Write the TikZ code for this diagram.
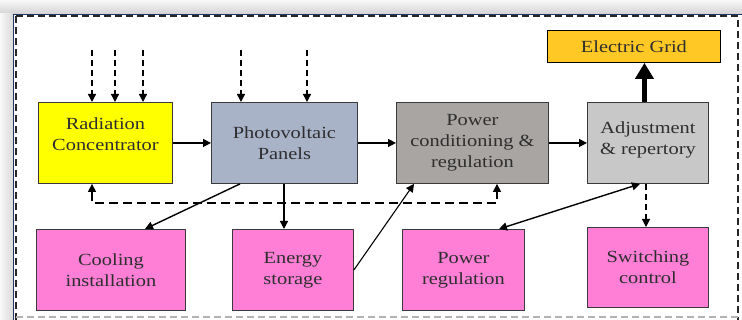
\documentclass[tikz,border=0pt]{standalone}
\usepackage{fontspec}
\setmainfont{Liberation Serif}[FakeStretch=1.2]
\usetikzlibrary{arrows.meta}
\definecolor{boxline}{HTML}{3A3A3A}
\definecolor{txt}{HTML}{2E2E2E}
\definecolor{ryellow}{HTML}{FFFF00}
\definecolor{pvblue}{HTML}{A8B3C8}
\definecolor{pcgray}{HTML}{A9A5A3}
\definecolor{adgray}{HTML}{C8C8C8}
\definecolor{gridorange}{HTML}{FFC825}
\definecolor{pinkbox}{HTML}{FF7FD6}
\definecolor{navyline}{HTML}{1F3864}
\newcommand\boxfont{\fontsize{17}{21}\selectfont}
\begin{document}
\begin{tikzpicture}[x=1pt,y=-1pt,
  box/.style={draw=boxline, line width=0.9pt, inner sep=0pt, align=center,
    font=\boxfont, text=txt, anchor=north west},
  lbl/.style={font=\boxfont, text=txt, align=center},
  arr/.style={draw=black, line width=1.4pt, -{Triangle[length=8pt,width=8pt]}},
  darr/.style={draw=black, line width=1.4pt, dash pattern=on 6pt off 4pt, -{Triangle[length=8pt,width=8pt]}},
  bigarr/.style={draw=black, line width=5.5pt, -{Triangle[length=16pt,width=18pt]}}]
\useasboundingbox (0,0) rectangle (742,320);
\fill[white] (0,0) rectangle (742,320);
\shade[top color=gray!5, bottom color=gray!35] (0,0) rectangle (742,14);
\shade[left color=gray!5, right color=gray!30] (0,14) rectangle (13,320);
% frame
\draw[navyline, line width=0.8pt] (13,14) -- (742,14);
\draw[navyline, line width=0.8pt] (13,14) -- (13,320);
\draw[black!85, line width=1.6pt, dash pattern=on 7pt off 4pt] (16,16) -- (738,16) -- (738,320);
\draw[black!85, line width=1.6pt, dash pattern=on 7pt off 4pt] (16,16) -- (16,320);
\draw[gray!60, line width=1.6pt, dash pattern=on 7pt off 4pt] (16,317) -- (738,317);
% boxes
\node[box, fill=ryellow, minimum width=134pt, minimum height=81pt,
  label={[lbl, yshift=9pt]center:Radiation\\Concentrator}] (rc) at (38,102) {};
\node[box, fill=pvblue, minimum width=146pt, minimum height=81pt] (pv) at (211,102) {Photovoltaic\\Panels};
\node[box, fill=pcgray, minimum width=152pt, minimum height=81pt] (pc) at (396,102) {Power\\conditioning \&\\regulation};
\node[box, fill=adgray, minimum width=121pt, minimum height=81pt,
  label={[lbl, yshift=3pt]center:Adjustment\\\& repertory}] (ad) at (587,102) {};
\node[box, fill=gridorange, minimum width=173pt, minimum height=32pt, draw=black] (eg) at (547,30) {Electric Grid};
\node[box, fill=pinkbox, minimum width=149pt, minimum height=81pt] (co) at (36,229) {Cooling\\installation};
\node[box, fill=pinkbox, minimum width=121pt, minimum height=81pt] (es) at (232,229) {Energy\\storage};
\node[box, fill=pinkbox, minimum width=122pt, minimum height=81pt] (pr) at (402,229) {Power\\regulation};
\node[box, fill=pinkbox, minimum width=121pt, minimum height=80pt] (sw) at (587,227) {Switching\\control};
% incoming radiation
\coordinate (i1) at (92,50);
\coordinate (i2) at (115,50);
\coordinate (i3) at (143,50);
\coordinate (i4) at (241,50);
\coordinate (i5) at (307,50);
\foreach \c/\n in {i1/rc,i2/rc,i3/rc,i4/pv,i5/pv}
  \draw[darr] (\c) -- (\c |- \n.north);
% main chain
\draw[arr] (rc.east) -- (pv.west);
\draw[arr] (pv.east) -- (pc.west);
\draw[arr] (pc.east) -- (ad.west);
\draw[bigarr] ([xshift=-3.5pt]ad.north) -- ([xshift=-3.5pt]ad.north |- eg.south);
% feedback dashed
\coordinate (fbL) at (92,203);
\coordinate (fbR) at (497,203);
\draw[draw=black, line width=1.4pt, dash pattern=on 9pt off 5pt,
  {Triangle[length=8pt,width=8pt]}-{Triangle[length=8pt,width=8pt]}]
  (fbL |- rc.south) -- (fbL) -- (fbR) -- (fbR |- pc.south);
% lower connections
\draw[arr] ([xshift=29pt]pv.south west) -- ([xshift=109pt]co.north west);
\draw[arr] ([xshift=73pt]pv.south west) -- ([xshift=73pt]pv.south west |- es.north);
\draw[arr, line width=1.1pt] (es.east) -- ([xshift=18pt]pc.south west);
\draw[arr, {Triangle[length=8pt,width=8pt]}-{Triangle[length=8pt,width=8pt]}] ([xshift=53pt]ad.south west) -- ([xshift=97pt]pr.north west);
\draw[darr, line width=1.1pt] ([xshift=59pt]ad.south west) -- ([xshift=59pt]ad.south west |- sw.north);
\end{tikzpicture}
\end{document}
